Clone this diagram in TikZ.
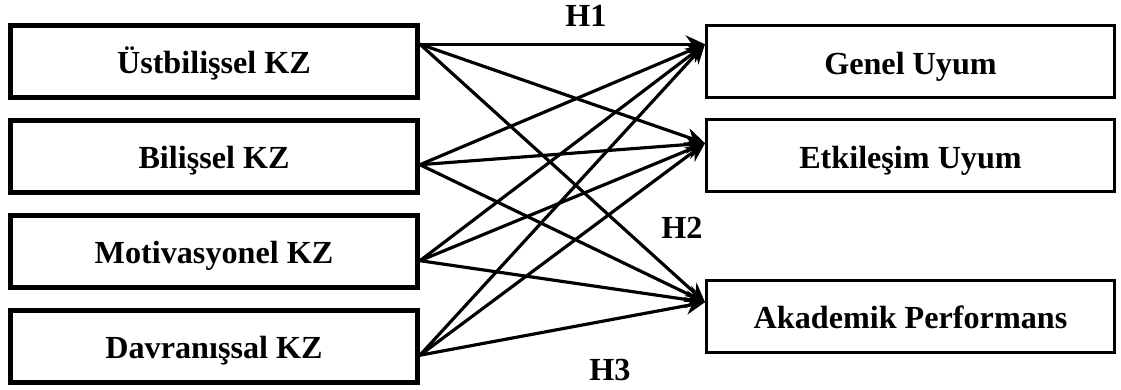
\documentclass[tikz,border=0pt]{standalone}
\usepackage{fontspec}
\setmainfont{Liberation Serif}
\usetikzlibrary{arrows.meta, positioning}

\begin{document}
\begin{tikzpicture}[
    node distance=1.9cm,
    on grid,
    every node/.style={font=\fontsize{18.3}{21}\selectfont\bfseries},
    kzbox/.style={draw, line width=2.8pt, minimum width=8.14cm, minimum height=1.45cm,
        text height=13pt, text depth=0pt},
    uyumbox/.style={draw, line width=1.7pt, minimum width=8.16cm, minimum height=1.44cm,
        text height=14.2pt, text depth=0pt},
    yol/.style={line width=1.8pt, -{Stealth[length=11pt, width=10pt]}}
]
    \useasboundingbox (0,0) rectangle (22.42,-7.8);

    % Boxes
    \node[kzbox] (ust) at (4.28,-1.234) {Üstbilişsel KZ};
    \node[kzbox] (bil) [below=of ust] {Bilişsel KZ};
    \node[kzbox] (mot) [below=of bil] {Motivasyonel KZ};
    \node[kzbox] (dav) [below=of mot] {Davranışsal KZ};
    \node[uyumbox] (gen) [right=13.93cm of ust] {Genel Uyum};
    \node[uyumbox] (etk) [below=1.88cm of gen] {Etkileşim Uyum};
    \node[uyumbox] (aka) [below=3.21cm of etk] {Akademik Performans};

    % Arrow ends
    \coordinate (ust out) at ([yshift=0.35cm]ust.east);
    \coordinate (bil out) at ([yshift=-0.16cm]bil.east);
    \coordinate (mot out) at ([yshift=-0.18cm]mot.east);
    \coordinate (dav out) at ([yshift=-0.17cm]dav.east);
    \coordinate (gen in) at ([yshift=0.35cm]gen.west);
    \coordinate (etk in) at ([yshift=0.25cm]etk.west);
    \coordinate (aka in) at ([yshift=0.28cm]aka.west);

    % Paths
    \path[yol]
    (ust out) edge (gen in)
    (ust out) edge (etk in)
    (ust out) edge (aka in)

    (bil out) edge (gen in)
    (bil out) edge (etk in)
    (bil out) edge (aka in)

    (mot out) edge (gen in)
    (mot out) edge (etk in)
    (mot out) edge (aka in)

    (dav out) edge (gen in)
    (dav out) edge (etk in)
    (dav out) edge (aka in);

    % Hypotheses
    \node (h1) at (11.72,-0.31) {H1};
    \node (h2) at (13.64,-4.55) {H2};
    \node (h3) at (12.2,-7.4) {H3};
\end{tikzpicture}
\end{document}
